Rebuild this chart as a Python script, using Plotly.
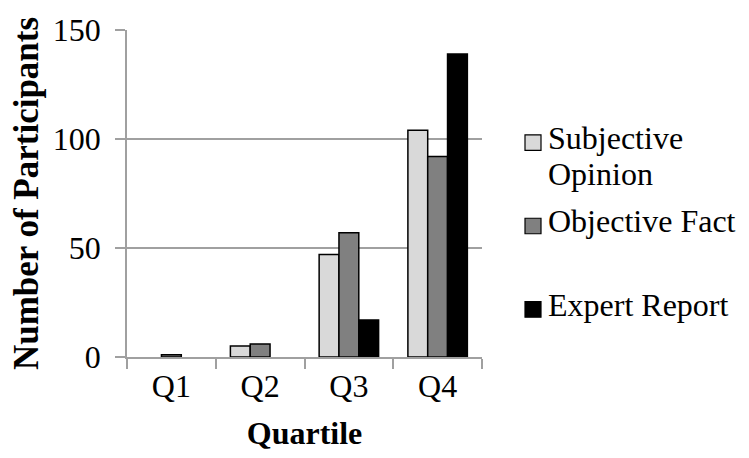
import plotly.graph_objects as go

# Participants per quartile, by type of information presented
quartiles = ["Q1", "Q2", "Q3", "Q4"]
subjective_opinion = [0, 5, 47, 104]
objective_fact = [1, 6, 57, 92]
expert_report = [0, 0, 17, 139]

series_labels = [["Subjective", "Opinion"], ["Objective Fact"], ["Expert Report"]]
series_values = [subjective_opinion, objective_fact, expert_report]
series_colors = ["#d9d9d9", "#808080", "#000000"]

FONT = "Liberation Serif, Times New Roman, serif"
W, H = 749, 458
L, R, T, B = 127, 267, 20, 101
GRID = "#a0a0a0"

fig = go.Figure()
for labels, vals, col in zip(series_labels, series_values, series_colors):
    fig.add_trace(go.Bar(
        x=quartiles, y=vals, name=" ".join(labels),
        # empty bars get no outline so they don't show as a stroke on the axis
        marker=dict(color=col, line=dict(color="#000000",
                                         width=[1.5 if v else 0 for v in vals])),
        showlegend=False,
    ))

# Legend drawn as swatches + labels placed in the right margin (pixel -> paper)
def px_x(p):
    return (p - L) / (W - L - R)

def px_y(p):
    return (H - B - p) / (H - T - B)

legend_rows = [136, 222, 308]   # vertical centres of the swatches
LINE_STEP = 37
TEXT_SHIFT = -5
shapes = []
annotations = []
for labels, col, cy in zip(series_labels, series_colors, legend_rows):
    shapes.append(dict(
        type="rect", xref="paper", yref="paper",
        x0=px_x(525), x1=px_x(541), y0=px_y(cy - 8), y1=px_y(cy + 8),
        fillcolor=col, line=dict(color="#000000", width=1.2),
    ))
    for i, line in enumerate(labels):
        annotations.append(dict(
            xref="paper", yref="paper", x=px_x(546),
            y=px_y(cy + TEXT_SHIFT + i * LINE_STEP),
            text=line, showarrow=False, xanchor="left", yanchor="middle",
            font=dict(family=FONT, size=32, color="#000000"),
        ))

fig.update_layout(
    width=W, height=H,
    margin=dict(l=L, r=R, t=T, b=B),
    paper_bgcolor="white", plot_bgcolor="white",
    barmode="group", bargap=0.33, bargroupgap=0,
    font=dict(family=FONT, size=32, color="#000000"),
    shapes=shapes, annotations=annotations,
    xaxis=dict(
        title=dict(text="<b>Quartile</b>", font=dict(family=FONT, size=32), standoff=18),
        tickson="boundaries", ticks="outside", ticklen=10, tickcolor=GRID, tickwidth=1.5,
        showline=True, linecolor=GRID, linewidth=1.5,
        tickfont=dict(family=FONT, size=32),
        showgrid=False,
    ),
    yaxis=dict(
        title=dict(text="<b>Number of Participants</b>", font=dict(family=FONT, size=35), standoff=4),
        range=[0, 150], dtick=50, tick0=0,
        ticks="outside", ticklen=10, tickcolor=GRID, tickwidth=1.5,
        ticklabelstandoff=8,
        showline=True, linecolor=GRID, linewidth=1.5,
        showgrid=True, gridcolor=GRID, gridwidth=1.5,
        zeroline=False,
        tickfont=dict(family=FONT, size=32),
    ),
)

fig.write_html("out.html")
